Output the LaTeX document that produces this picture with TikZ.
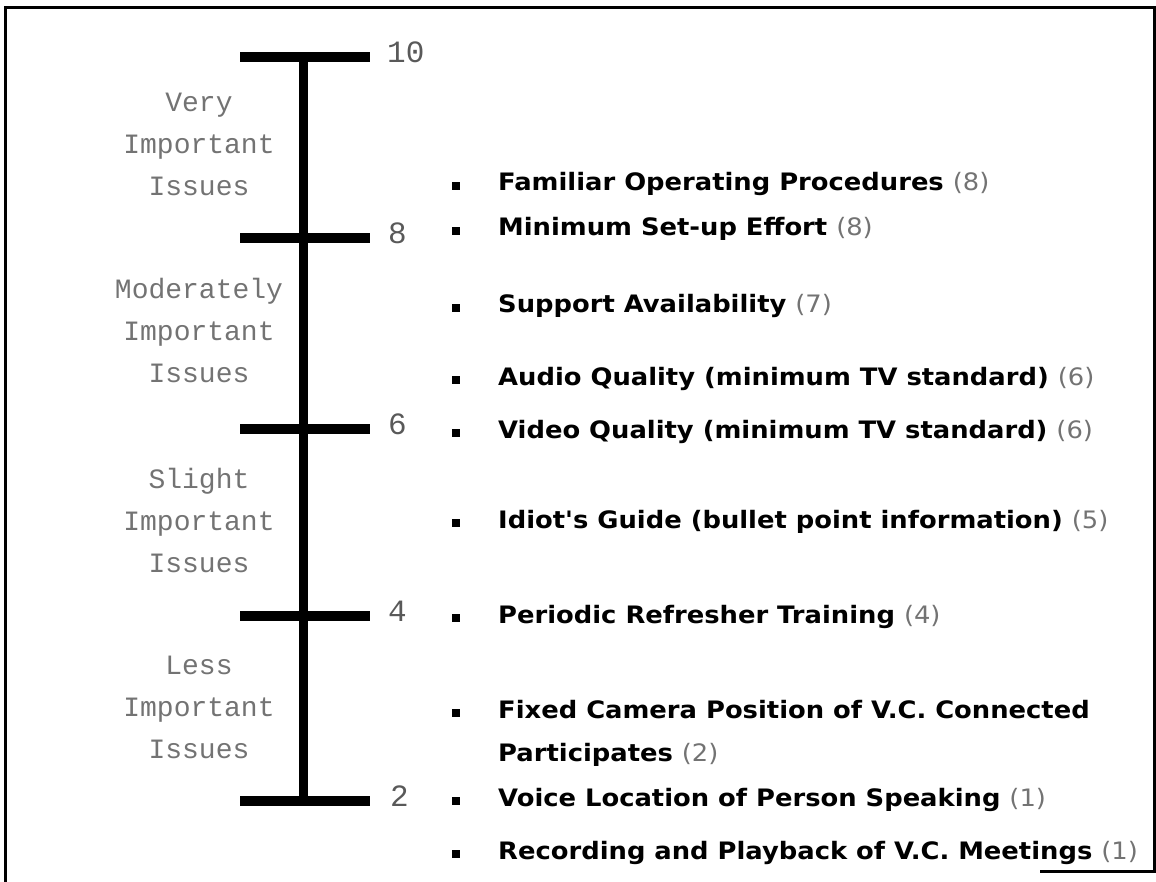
\documentclass[tikz,border=0pt]{standalone}
\usepackage{fontspec}
\usepackage{tikz}
\usetikzlibrary{positioning}

\newfontfamily\itemfont[FakeStretch=1.075]{DejaVu Sans}
\newfontfamily\scalefont{Liberation Mono}
\newcommand{\scoreno}[1]{{\mdseries\color{black!55}(#1)}}

\begin{document}
\begin{tikzpicture}[
    x=1pt, y=-1pt,
    bar/.style      = {line width=9pt},
    tick/.style     = {line width=10pt},
    frame/.style    = {line width=3pt},
    scalenum/.style = {font=\scalefont\fontsize{31}{31}\selectfont,
                       text=black!65, inner sep=0pt},
    level/.style    = {font=\scalefont\fontsize{28}{42}\selectfont,
                       text=black!55, align=center, inner sep=0pt},
    bullet/.style   = {fill=black, inner sep=0pt, minimum size=8pt,
                       anchor=south, yshift=1pt},
    item/.style     = {font=\itemfont\bfseries\fontsize{24}{30}\selectfont,
                       anchor=base west, inner sep=0pt}
  ]

    \useasboundingbox (0,0) rectangle (1156,882);

    % frame of the scanned page
    \draw[frame] (5,882) -- (5,8) -- (1154,8) -- (1154,871) -- (1040,871);

    % scale
    \coordinate (t10) at (303,57);
    \coordinate (t8)  at (303,238);
    \coordinate (t6)  at (303,429);
    \coordinate (t4)  at (303,616);
    \coordinate (t2)  at (303,801);
    \coordinate (bx)  at (456,0);

    \draw[bar] (t10) -- (t2);
    \draw[tick] ([xshift=-63pt]t10) -- ([xshift=67pt]t10) coordinate (t10r);
    \draw[tick] ([xshift=-63pt]t8)  -- ([xshift=67pt]t8)  coordinate (t8r);
    \draw[tick] ([xshift=-63pt]t6)  -- ([xshift=67pt]t6)  coordinate (t6r);
    \draw[tick] ([xshift=-63pt]t4)  -- ([xshift=67pt]t4)  coordinate (t4r);
    \draw[tick] ([xshift=-63pt]t2)  -- ([xshift=67pt]t2)  coordinate (t2r);

    \node[scalenum, right=17pt of t10r, yshift=5pt] (n10) {10};
    \node[scalenum, right=18pt of t8r,  yshift=5pt] (n8)  {8};
    \node[scalenum, right=18pt of t6r,  yshift=5pt] (n6)  {6};
    \node[scalenum, right=18pt of t4r,  yshift=5pt] (n4)  {4};
    \node[scalenum, right=20pt of t2r,  yshift=5pt] (n2)  {2};

    % importance bands
    \node[level] (very)   at (199,144) {Very\\Important\\Issues};
    \node[level] (modest) at (199,330) {Moderately\\Important\\Issues};
    \node[level] (slight) at (199,520) {Slight\\Important\\Issues};
    \node[level] (less)   at (199,707) {Less\\Important\\Issues};

    % rated issues
    \node[item] (fam)  at (498,191) {Familiar Operating Procedures \scoreno{8}};
    \node[item] (min)  at (498,236) {Minimum Set-up Effort \scoreno{8}};
    \node[item] (sup)  at (498,313) {Support Availability \scoreno{7}};
    \node[item] (aud)  at (498,385) {Audio Quality (minimum TV standard) \scoreno{6}};
    \node[item] (vid)  at (498,438) {Video Quality (minimum TV standard) \scoreno{6}};
    \node[item] (idi)  at (498,528) {Idiot's Guide (bullet point information) \scoreno{5}};
    \node[item] (per)  at (498,623) {Periodic Refresher Training \scoreno{4}};
    \node[item] (fix)  at (498,718) {Fixed Camera Position of V.C. Connected};
    \node[item] (fixb) at (498,761) {Participates \scoreno{2}};
    \node[item] (voi)  at (498,806) {Voice Location of Person Speaking \scoreno{1}};
    \node[item] (rec)  at (498,859) {Recording and Playback of V.C. Meetings \scoreno{1}};

    \foreach \n in {fam,min,sup,aud,vid,idi,per,fix,voi,rec}
      \node[bullet] (b-\n) at (bx |- \n.base) {};

\end{tikzpicture}
\end{document}
